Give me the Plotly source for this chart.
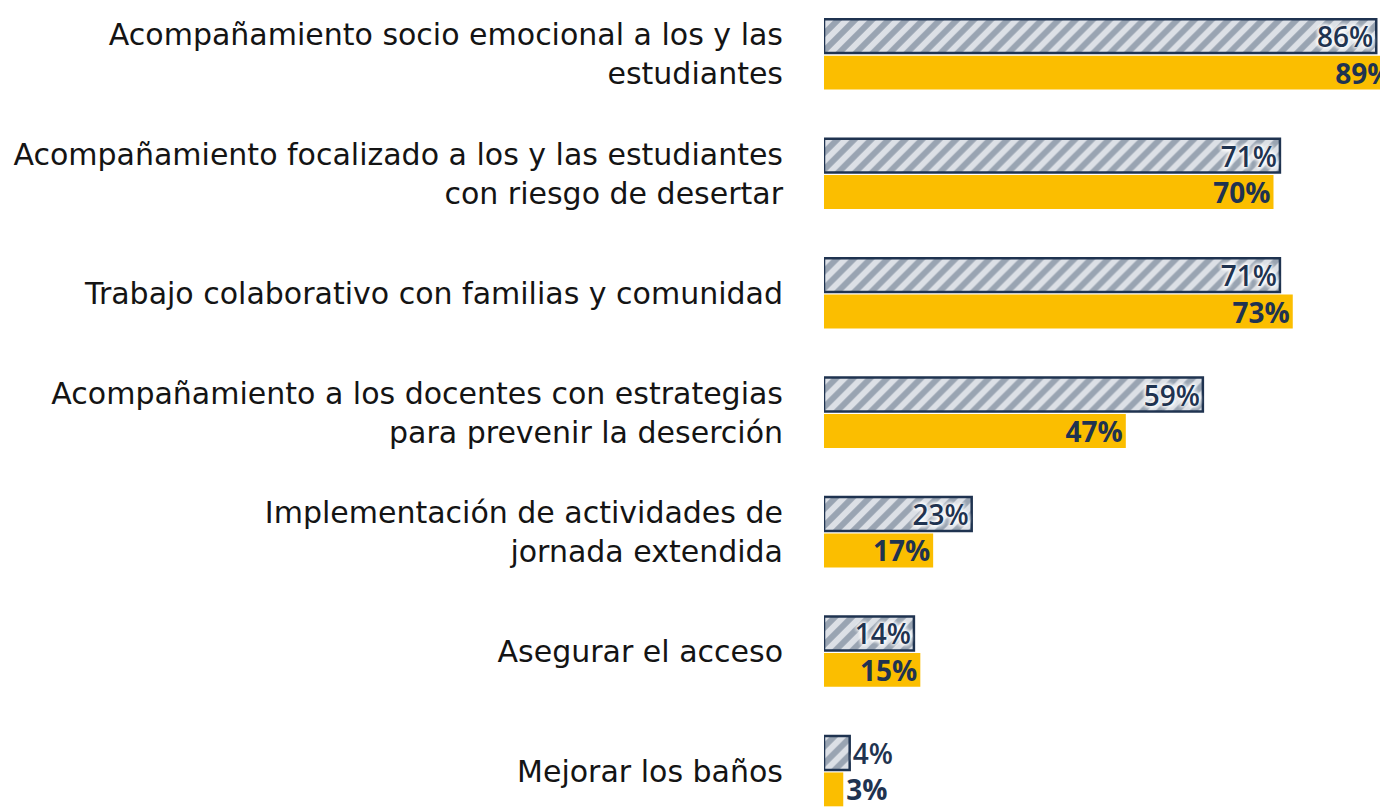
import plotly.graph_objects as go

# Acciones implementadas (de arriba hacia abajo)
acciones = [
    "Acompañamiento socio emocional a los y las<br>estudiantes",
    "Acompañamiento focalizado a los y las estudiantes<br>con riesgo de desertar",
    "Trabajo colaborativo con familias y comunidad",
    "Acompañamiento a los docentes con estrategias<br>para prevenir la deserción",
    "Implementación de actividades de<br>jornada extendida",
    "Asegurar el acceso",
    "Mejorar los baños",
]
serie_a = [86, 71, 71, 59, 23, 14, 4]
serie_b = [89, 70, 73, 47, 17, 15, 3]

NAVY = "#1f3350"
YELLOW = "#FBBE00"
VALUE_FONT = "Open Sans"
LABEL_FONT = "DejaVu Sans"
HALO = ", ".join(["0 0 4px white"] * 4)


def positions(vals):
    return ["inside" if v >= 10 else "outside" for v in vals]


fig = go.Figure()

fig.add_trace(go.Bar(
    y=acciones, x=serie_a, orientation="h",
    marker=dict(
        color="#d9dee4",
        line=dict(color=NAVY, width=2.5),
        pattern=dict(shape="/", fgcolor="#56687e", bgcolor="#dce0e6",
                     size=12, solidity=0.5, fillmode="overlay"),
    ),
    text=[f"{v}%" for v in serie_a],
    textposition=positions(serie_a),
    insidetextanchor="end",
    constraintext="none",
    textfont=dict(family=VALUE_FONT, size=28, color=NAVY, weight=600, shadow=HALO),
    outsidetextfont=dict(family=VALUE_FONT, size=28, color=NAVY, weight=600),
    cliponaxis=False,
    hoverinfo="skip",
))

fig.add_trace(go.Bar(
    y=acciones, x=serie_b, orientation="h",
    marker=dict(color=YELLOW, line=dict(width=0)),
    text=[f"{v}%" for v in serie_b],
    textposition=positions(serie_b),
    insidetextanchor="end",
    constraintext="none",
    textfont=dict(family=VALUE_FONT, size=28, color=NAVY, weight=700),
    cliponaxis=False,
    hoverinfo="skip",
))

fig.update_layout(
    width=1400, height=807,
    margin=dict(l=824, r=0, t=0, b=0),
    paper_bgcolor="white", plot_bgcolor="white",
    barmode="group", bargap=0.39, bargroupgap=0.07,
    showlegend=False,
    xaxis=dict(range=[0, 89.7], visible=False, fixedrange=True),
    yaxis=dict(
        type="category", range=[6.30, -0.455],
        showgrid=False, zeroline=False, showline=False, ticks="",
        ticklabelstandoff=40,
        tickfont=dict(family=LABEL_FONT, size=30, color="#141414"),
        fixedrange=True,
    ),
)

fig.write_html(
    "out.html",
    post_script="document.documentElement.style.overflow='hidden';"
                "document.body.style.overflow='hidden';",
)
